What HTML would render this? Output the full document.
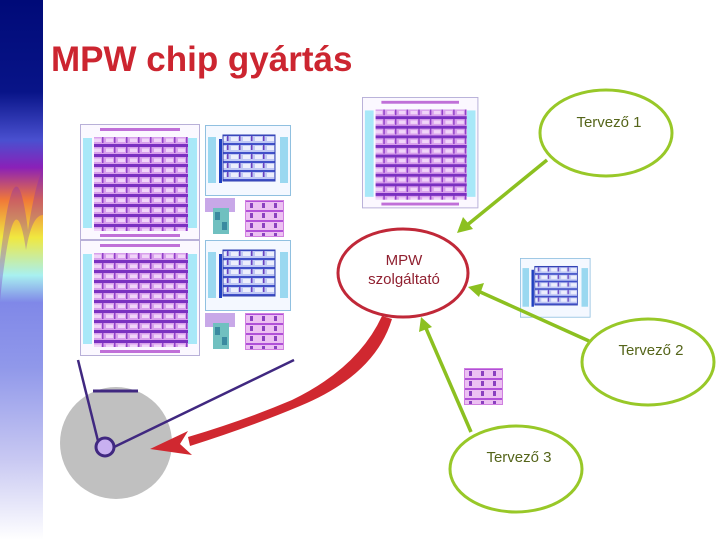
<!DOCTYPE html>
<html><head><meta charset="utf-8"><style>
html,body{margin:0;padding:0;background:#fff}
body{width:720px;height:540px;overflow:hidden;position:relative;font-family:"Liberation Sans",sans-serif}
</style></head><body>
<svg width="720" height="540" viewBox="0 0 720 540" xmlns="http://www.w3.org/2000/svg" style="position:absolute;left:0;top:0">
<defs>
<linearGradient id="side" x1="0" y1="0" x2="0" y2="1">
<stop offset="0" stop-color="#000a78"/>
<stop offset="0.17" stop-color="#081488"/>
<stop offset="0.26" stop-color="#4a50d0"/>
<stop offset="0.31" stop-color="#8a20b8"/>
<stop offset="0.37" stop-color="#f07838"/>
<stop offset="0.44" stop-color="#f0e840"/>
<stop offset="0.51" stop-color="#a8f0f0"/>
<stop offset="0.56" stop-color="#8088e8"/>
<stop offset="0.68" stop-color="#9098ea"/>
<stop offset="0.85" stop-color="#c8c8f2"/>
<stop offset="1" stop-color="#ffffff"/>
</linearGradient>
<pattern id="big" width="12" height="10" patternUnits="userSpaceOnUse">
<rect width="12" height="10" fill="#d8a0ec"/>
<rect y="0" width="12" height="3" fill="#7a30c0"/>
<rect x="2" y="4.5" width="7" height="3.5" fill="#f0d4f8"/>
<rect x="10" y="3" width="1.5" height="6" fill="#9040c8"/>
</pattern>
<pattern id="blu" width="12" height="9" patternUnits="userSpaceOnUse">
<rect width="12" height="9" fill="#c0c8f4"/>
<rect width="12" height="2" fill="#4050c8"/>
<rect x="2" y="3" width="7" height="4" fill="#eceefc"/>
<rect x="10" y="2" width="1.5" height="5" fill="#6a40c0"/>
</pattern>
<pattern id="pk" width="12" height="10" patternUnits="userSpaceOnUse">
<rect width="12" height="10" fill="#ecc0f2"/>
<rect width="12" height="2" fill="#b050d8"/>
<rect x="5" y="3" width="3" height="5" fill="#8a40c0"/>
</pattern>
<g id="bigchip">
<rect x="0.5" y="0.5" width="119" height="115" fill="#fbf8ff" stroke="#b8b0d8"/>
<rect x="3" y="14" width="9" height="90" fill="#a8e8f8"/>
<rect x="108" y="14" width="9" height="90" fill="#a8e8f8"/>
<rect x="14" y="13" width="94" height="94" fill="url(#big)"/>
<rect x="20" y="4" width="80" height="3" fill="#c070d8"/>
<rect x="20" y="110" width="80" height="3" fill="#c070d8"/>
</g>
<g id="bluchip">
<rect x="0.5" y="0.5" width="85" height="70" fill="#f4f8ff" stroke="#90c0e0"/>
<rect x="3" y="12" width="8" height="46" fill="#9ad8f0"/>
<rect x="75" y="12" width="8" height="46" fill="#9ad8f0"/>
<rect x="18" y="10" width="52" height="46" fill="url(#blu)" stroke="#3040b0"/>
<rect x="14" y="14" width="3" height="44" fill="#2040c0"/>
</g>
<g id="pkchip">
<rect x="0.5" y="0.5" width="38" height="36" fill="url(#pk)" stroke="#d080e0"/>
</g>
<g id="tchip">
<rect x="0" y="0" width="30" height="14" fill="#c8a8e8"/>
<rect x="8" y="10" width="16" height="26" fill="#70c0c0"/>
<rect x="10" y="14" width="5" height="8" fill="#3a8aa0"/>
<rect x="17" y="24" width="5" height="8" fill="#3a8aa0"/>
</g>
</defs>
<rect x="0" y="0" width="43" height="540" fill="url(#side)"/>
<path d="M0,260 Q15,130 28,230 Q36,180 43,170 L43,215 Q32,215 26,250 Q14,170 0,300 Z" fill="#7a28c0" opacity="0.3"/>

<text x="51" y="71" font-family="Liberation Sans, sans-serif" font-weight="bold" font-size="35" fill="#cc2530">MPW chip gyártás</text>

<use href="#bigchip" x="80" y="124"/>
<use href="#bigchip" x="80" y="240"/>
<use href="#bluchip" x="205" y="125"/>
<use href="#bluchip" x="205" y="240"/>
<use href="#tchip" x="205" y="198"/>
<use href="#tchip" x="205" y="313"/>
<use href="#pkchip" x="245" y="200"/>
<use href="#pkchip" x="245" y="313"/>

<g transform="translate(362,97) scale(0.97,0.96)"><use href="#bigchip"/></g>
<g transform="translate(520,258) scale(0.82,0.84)"><use href="#bluchip"/></g>
<use href="#pkchip" x="464" y="368"/>

<circle cx="116" cy="443" r="56" fill="#c0c0c0"/>
<line x1="93" y1="391" x2="138" y2="391" stroke="#402880" stroke-width="3"/>
<line x1="78" y1="360" x2="99" y2="445" stroke="#402880" stroke-width="2.5"/>
<line x1="294" y1="360" x2="110" y2="449" stroke="#402880" stroke-width="2.5"/>
<circle cx="105" cy="447" r="9" fill="#c8b0f0" stroke="#402880" stroke-width="3"/>

<path d="M382,316 L392,319 Q375,375 300,406 Q250,427 190,446 L188,437 Q245,420 292,400 Q358,368 382,316 Z" fill="#d02830"/>
<path d="M150,449 L188,431 L180,444 L192,455 Z" fill="#d02830"/>

<g stroke="#8cc020" stroke-width="3.5" fill="none">
<line x1="547" y1="160" x2="466" y2="226"/>
<line x1="589" y1="341" x2="478" y2="291"/>
<line x1="471" y1="432" x2="425" y2="326"/>
</g>
<g fill="#8cc020">
<path d="M457,233 L463,217 L473,229 Z"/>
<path d="M468,287 L484,283 L479,297 Z"/>
<path d="M421,317 L419,332 L432,327 Z"/>
</g>

<g fill="none" stroke-width="3">
<ellipse cx="606" cy="133" rx="66" ry="43" stroke="#98c828"/>
<ellipse cx="403" cy="273" rx="65" ry="44" stroke="#c02838"/>
<ellipse cx="648" cy="362" rx="66" ry="43" stroke="#98c828"/>
<ellipse cx="516" cy="469" rx="66" ry="43" stroke="#98c828"/>
</g>
<g font-family="Liberation Sans, sans-serif" font-size="15" text-anchor="middle">
<text x="609" y="127" fill="#55651a">Tervező 1</text>
<text x="651" y="355" fill="#55651a">Tervező 2</text>
<text x="519" y="462" fill="#55651a">Tervező 3</text>
<text x="404" y="265" fill="#902030">MPW</text>
<text x="404" y="284" fill="#902030">szolgáltató</text>
</g>
</svg>
</body></html>
